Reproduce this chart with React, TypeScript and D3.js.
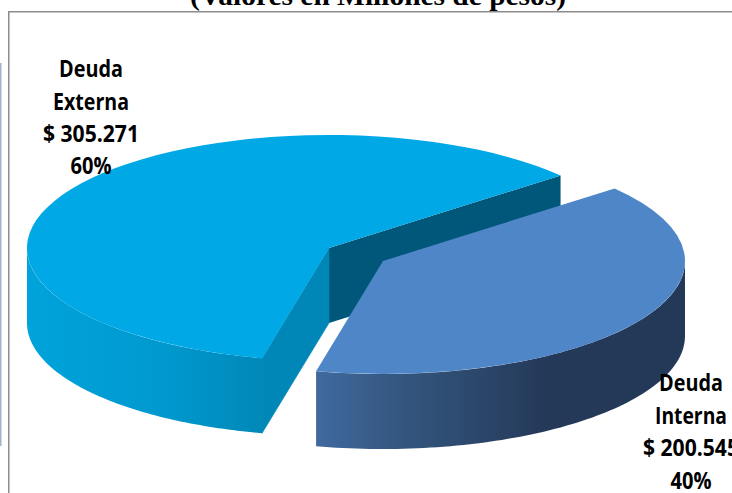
import React from "react";
import * as d3 from "d3";

const categories = ["Deuda Externa", "Deuda Interna"];
const amounts = [305.271, 200.545];
const amountLabels = ["$ 305.271", "$ 200.545"];
const percentLabels = ["60%", "40%"];
const titleText = "(Valores en Millones de pesos)";

const W = 732, H = 493;
const RX = 302, RY = 113, DEPTH = 75;
const centers = [{ x: 329, y: 248 }, { x: 383, y: 261 }];
const topColors = ["#00A9E6", "#4F86C8"];
const rad = Math.PI / 180;
const START = 192.8 * rad;

const pie = d3.pie<number>().sort(null).startAngle(START).endAngle(START + 2 * Math.PI);
const slices = pie(amounts);
const arc = d3.arc<any>().innerRadius(0).outerRadius(RX);

const px = (c: { x: number }, a: number) => c.x + RX * Math.sin(a);
const py = (c: { y: number }, a: number) => c.y - RY * Math.cos(a);

function wall(c: { x: number; y: number }, a0: number, a1: number) {
  const n = 80;
  const angles = d3.range(n + 1).map((i) => a0 + ((a1 - a0) * i) / n);
  return d3
    .area<number>()
    .x((a) => px(c, a))
    .y0((a) => py(c, a))
    .y1((a) => py(c, a) + DEPTH)(angles) as string;
}

function face(c: { x: number; y: number }, a: number) {
  const x1 = px(c, a), y1 = py(c, a);
  const p = d3.path();
  p.moveTo(c.x, c.y);
  p.lineTo(x1, y1);
  p.lineTo(x1, y1 + DEPTH);
  p.lineTo(c.x, c.y + DEPTH);
  p.closePath();
  return p.toString();
}

const labelFont = { fontFamily: "'Open Sans', sans-serif", fontWeight: 700, fontSize: 23, fill: "#000" };

function Label({ x, ys, lines, lens }: { x: number; ys: number[]; lines: string[]; lens: number[] }) {
  return (
    <g {...labelFont} textAnchor="middle">
      {lines.map((t, i) => (
        <text key={i} x={x} y={ys[i]} textLength={lens[i]} lengthAdjust="spacingAndGlyphs">
          {t}
        </text>
      ))}
    </g>
  );
}

export default function App() {
  const [ext, int] = slices;
  const [cE, cI] = centers;
  return (
    <svg
      width={W}
      height={H}
      viewBox={`0 0 ${W} ${H}`}
      style={{ position: "fixed", left: 0, top: 0, display: "block", background: "#fff" }}
    >
      <defs>
        <linearGradient id="wallE" gradientUnits="userSpaceOnUse" x1={27} x2={329} y1={0} y2={0}>
          <stop offset="0" stopColor="#00A3DB" />
          <stop offset="0.45" stopColor="#0099CF" />
          <stop offset="0.8" stopColor="#0087B7" />
          <stop offset="1" stopColor="#0087B7" />
        </linearGradient>
        <linearGradient id="wallI" gradientUnits="userSpaceOnUse" x1={317} x2={550} y1={0} y2={0}>
          <stop offset="0" stopColor="#40699F" />
          <stop offset="0.35" stopColor="#34577F" />
          <stop offset="1" stopColor="#243858" />
        </linearGradient>
      </defs>

      <rect x={0} y={63} width={1.5} height={383} fill="#A3B1CB" />
      <rect x={8.75} y={11.75} width={760} height={520} fill="#fff" stroke="#8C8C8C" strokeWidth={1.5} />

      <text
        x={378}
        y={5}
        textAnchor="middle"
        fontFamily="'Liberation Serif', serif"
        fontWeight={700}
        fontSize={27}
        textLength={376}
        lengthAdjust="spacingAndGlyphs"
        fill="#000"
      >
        {titleText}
      </text>

      {/* Deuda Externa */}
      <path d={face(cE, ext.endAngle)} fill="#00577A" />
      <path d={face(cE, ext.startAngle)} fill="#0087B7" stroke="#0087B7" strokeWidth={0.6} />
      <path d={wall(cE, ext.startAngle, 270 * rad)} fill="url(#wallE)" />
      <path
        transform={`translate(${cE.x},${cE.y}) scale(1,${RY / RX})`}
        d={arc(ext) as string}
        fill={topColors[0]}
      />

      {/* Deuda Interna */}
      <path d={wall(cI, 90 * rad + 2 * Math.PI, int.endAngle)} fill="url(#wallI)" />
      <path
        transform={`translate(${cI.x},${cI.y}) scale(1,${RY / RX})`}
        d={arc(int) as string}
        fill={topColors[1]}
      />

      <Label
        x={91}
        ys={[77, 110, 142, 174]}
        lines={[...categories[0].split(" "), amountLabels[0], percentLabels[0]]}
        lens={[64, 76, 96, 41]}
      />
      <Label
        x={691}
        ys={[391, 424, 456, 489]}
        lines={[...categories[1].split(" "), amountLabels[1], percentLabels[1]]}
        lens={[64, 72, 96, 41]}
      />
    </svg>
  );
}
